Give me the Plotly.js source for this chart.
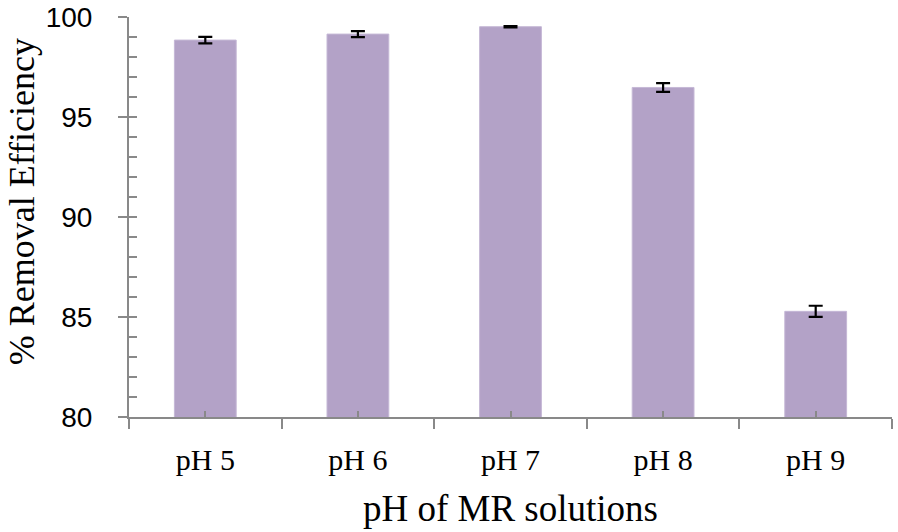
<!DOCTYPE html>
<html>
<head>
<meta charset="utf-8">
<script src="https://cdn.plot.ly/plotly-3.0.1.min.js"></script>
<style>
  html, body { margin: 0; padding: 0; background: #fff; }
  #chart { width: 898px; height: 532px; }
</style>
</head>
<body>
<div id="chart"></div>
<script>
// data
const categories = ['pH 5', 'pH 6', 'pH 7', 'pH 8', 'pH 9'];
const removal = [98.85, 99.15, 99.52, 96.48, 85.28];
const errors = [0.16, 0.15, 0.03, 0.22, 0.28];
const yTicks = [80, 85, 90, 95, 100];
const yMinorTicks = [80, 81, 82, 83, 84, 85, 86, 87, 88, 89, 90, 91, 92, 93, 94, 95, 96, 97, 98, 99, 100];

const axisGray = '#898989';
const serif = 'Liberation Serif, Times New Roman, serif';
const yRange = [79.995, 100.005];

const bars = {
    type: 'bar',
    x: categories,
    y: removal,
    width: 0.405,
    marker: { color: '#b3a2c7', line: { color: '#c5b8d6', width: 1 } },
    error_y: { type: 'data', array: errors, visible: true, color: '#000', thickness: 2.2, width: 7 },
    hoverinfo: 'x+y'
};

// helper trace so the overlay axes (extra inside ticks) get drawn
const tickHelper = {
    type: 'scatter',
    mode: 'none',
    x: categories.map((c, i) => i),
    y: removal,
    xaxis: 'x2',
    yaxis: 'y2',
    hoverinfo: 'skip',
    showlegend: false
};

const layout = {
    width: 898,
    height: 532,
    margin: { l: 129, r: 6, t: 17, b: 115 },
    paper_bgcolor: '#fff',
    plot_bgcolor: '#fff',
    showlegend: false,
    xaxis: {
        type: 'category',
        range: [-0.5, 4.5],
        tickson: 'boundaries',
        ticks: 'outside',
        ticklen: 10,
        tickwidth: 2,
        tickcolor: axisGray,
        showline: true,
        linecolor: axisGray,
        linewidth: 2,
        showgrid: false,
        ticklabelstandoff: 15,
        tickfont: { family: serif, size: 30, color: '#000' },
        title: { text: 'pH of MR solutions', standoff: 20, font: { family: serif, size: 37, color: '#000' } }
    },
    yaxis: {
        range: yRange,
        tickmode: 'array',
        tickvals: yTicks,
        ticktext: yTicks.map(String),
        ticks: 'outside',
        ticklen: 9,
        tickwidth: 2,
        tickcolor: axisGray,
        showline: true,
        linecolor: axisGray,
        linewidth: 2,
        showgrid: false,
        zeroline: false,
        ticklabelstandoff: 20,
        tickfont: { family: 'Liberation Sans, Arial, sans-serif', size: 28, color: '#000' }
    },
    xaxis2: {
        overlaying: 'x',
        anchor: 'y',
        range: [-0.5, 4.5],
        tickmode: 'array',
        tickvals: categories.map((c, i) => i),
        ticks: 'inside',
        ticklen: 6,
        tickwidth: 2,
        tickcolor: axisGray,
        showticklabels: false,
        showgrid: false,
        zeroline: false,
        showline: false
    },
    yaxis2: {
        overlaying: 'y',
        anchor: 'x',
        range: yRange,
        tickmode: 'array',
        tickvals: yMinorTicks,
        ticks: 'inside',
        ticklen: 8,
        tickwidth: 2,
        tickcolor: axisGray,
        showticklabels: false,
        showgrid: false,
        zeroline: false,
        showline: false
    },
    annotations: [{
        text: '% Removal Efficiency',
        textangle: -90,
        xref: 'paper', yref: 'paper',
        x: -0.140, y: 0.5375,
        xanchor: 'center', yanchor: 'middle',
        showarrow: false,
        font: { family: serif, size: 36, color: '#000' }
    }]
};

Plotly.newPlot('chart', [bars, tickHelper], layout, { displayModeBar: false, staticPlot: true });
</script>
</body>
</html>
